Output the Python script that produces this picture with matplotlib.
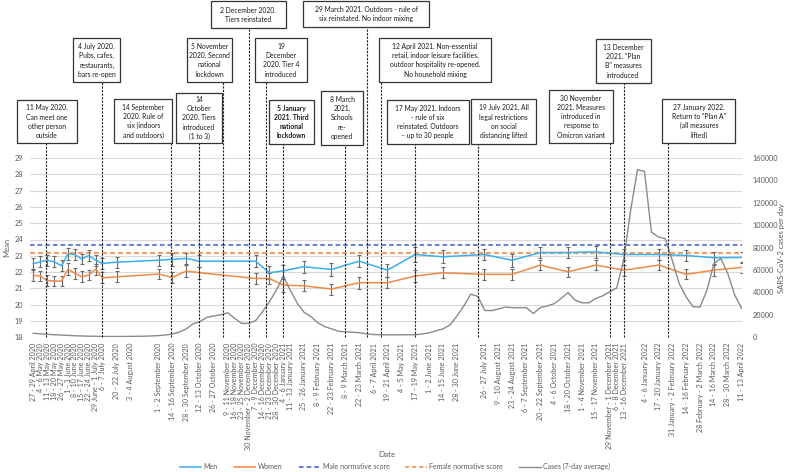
import matplotlib
matplotlib.use("Agg")
import matplotlib.pyplot as plt
import matplotlib.dates as mdates
from matplotlib.patches import Rectangle
from matplotlib.lines import Line2D
import pandas as pd

plt.rcParams['font.family'] = ['Lato', 'DejaVu Sans']

# ---------------- data ----------------
tick_dates = ["2020-04-28", "2020-05-05", "2020-05-12", "2020-05-19", "2020-05-26 12:00",
              "2020-06-02", "2020-06-09", "2020-06-16", "2020-06-23", "2020-06-30",
              "2020-07-06 12:00", "2020-07-21", "2020-08-03 12:00", "2020-09-01 12:00",
              "2020-09-15", "2020-09-29", "2020-10-12 12:00", "2020-10-26 12:00",
              "2020-11-10", "2020-11-17", "2020-11-24", "2020-12-01", "2020-12-08",
              "2020-12-15", "2020-12-22", "2020-12-29", "2021-01-05", "2021-01-12",
              "2021-01-25 12:00", "2021-02-08 12:00", "2021-02-22 12:00", "2021-03-08 12:00",
              "2021-03-22 12:00", "2021-04-06 12:00", "2021-04-20", "2021-05-04 12:00",
              "2021-05-18", "2021-06-01 12:00", "2021-06-14 12:00", "2021-06-29",
              "2021-07-26 12:00", "2021-08-09 12:00", "2021-08-23 12:00", "2021-09-06 12:00",
              "2021-09-21", "2021-10-05", "2021-10-19", "2021-11-02 12:00", "2021-11-16",
              "2021-11-30", "2021-12-07", "2021-12-14 12:00", "2022-01-05", "2022-01-18 12:00",
              "2022-02-01", "2022-02-15", "2022-03-01", "2022-03-15", "2022-03-29", "2022-04-12"]
tick_labels = ["27 - 29 April 2020", "4 - 6 May 2020", "11 - 13 May 2020", "18 - 20 May 2020",
               "26 - 27 May 2020", "1 - 3 June 2020", "8 - 10 June 2020", "15 - 17 June 2020",
               "22 - 24 June 2020", "29 June - 1 July 2020", "6 - 7 July 2020", "20 - 22 July 2020",
               "3 - 4 August 2020", "1 - 2 September 2020", "14 - 16 September 2020",
               "28 - 30 September 2020", "12 - 13 October 2020", "26 - 27 October 2020",
               "9 - 11 November 2020", "16 - 18 November 2020", "23 - 25 November 2020",
               "30 November - 2 December 2020", "7 - 9 December 2020", "14 - 16 December 2020",
               "21 - 23 December 2020", "28 - 30 December 2020", "4 - 6 January 2021",
               "11 - 13 January 2021", "25 - 26 January 2021", "8 - 9 February 2021",
               "22 - 23 February 2021", "8 - 9 March 2021", "22 - 23 March 2021",
               "6 - 7 April 2021", "19 - 21 April 2021", "4 - 5 May 2021", "17 - 19 May 2021",
               "1 - 2 June 2021", "14 - 15 June 2021", "28 - 30 June 2021", "26 - 27 July 2021",
               "9 - 10 August 2021", "23 - 24 August 2021", "6 - 7 September 2021",
               "20 - 22 September 2021", "4 - 6 October 2021", "18 - 20 October 2021",
               "1 - 4 November 2021", "15 - 17 November 2021", "29 November - 1 December 2021",
               "6 - 8 December 2021", "13 - 16 December 2021", "4 - 6 January 2022",
               "17 - 20 January 2022", "31 January - 2 February 2022", "14 - 16 February 2022",
               "28 February - 2 March 2022", "14 - 16 March 2022", "28 - 30 March 2022",
               "11 - 13 April 2022"]

score_dates = ["2020-04-28", "2020-05-05", "2020-05-12", "2020-05-19", "2020-05-26 12:00",
               "2020-06-02", "2020-06-09", "2020-06-16", "2020-06-23", "2020-06-30",
               "2020-07-06 12:00", "2020-07-21", "2020-09-01 12:00", "2020-09-15",
               "2020-09-29", "2020-10-12 12:00", "2020-12-08", "2020-12-22", "2021-01-05",
               "2021-01-25 12:00", "2021-02-22 12:00", "2021-03-22 12:00", "2021-04-20",
               "2021-05-18", "2021-06-14 12:00", "2021-07-26 12:00", "2021-08-23 12:00",
               "2021-09-21", "2021-10-19", "2021-11-16", "2021-12-14 12:00",
               "2022-01-18 12:00", "2022-02-15", "2022-03-15", "2022-04-12"]
men = [22.51, 22.63, 22.73, 22.63, 22.39, 23.12, 23.08, 22.80, 23.02, 22.73, 22.53, 22.61,
       22.73, 22.78, 22.84, 22.67, 22.67, 21.96, 22.08, 22.33, 22.16, 22.67, 22.12, 23.08,
       22.94, 23.08, 22.73, 23.20, 23.20, 23.24, 23.08, 23.08, 23.02, 22.88, 22.90]
men_err = [0.34, 0.33, 0.34, 0.33, 0.34, 0.36, 0.33, 0.33, 0.34, 0.34, 0.35, 0.33,
           0.34, 0.40, 0.36, 0.38, 0.38, 0.39, 0.36, 0.36, 0.39, 0.36, 0.39, 0.46,
           0.41, 0.36, 0.40, 0.33, 0.36, 0.35, 0.34, 0.35, 0.33, 0.36, 0.36]
women = [21.80, 21.76, 21.49, 21.45, 21.45, 22.18, 21.92, 21.71, 21.82, 22.18, 21.65, 21.71,
         21.88, 21.67, 22.06, 21.96, 21.61, 21.61, 21.20, 21.16, 20.96, 21.35, 21.35, 21.76,
         21.96, 21.86, 21.86, 22.43, 22.02, 22.43, 22.12, 22.43, 21.86, 22.12, 22.29]
women_err = [0.33, 0.32, 0.32, 0.32, 0.32, 0.35, 0.33, 0.33, 0.33, 0.33, 0.34, 0.33,
             0.33, 0.36, 0.35, 0.36, 0.33, 0.36, 0.40, 0.33, 0.34, 0.36, 0.34, 0.36,
             0.34, 0.34, 0.36, 0.33, 0.30, 0.33, 0.34, 0.33, 0.31, 0.34, 0.34]
male_norm = 23.65
female_norm = 23.20

cases_start = "2020-04-28"
cases = [3600, 3100, 2700, 2300, 2000, 1700, 1400, 1200, 1000, 900,
         800, 700, 700, 750, 800, 900, 1000, 1200, 1500, 2000,
         2900, 4600, 7400, 12000, 14000, 17800, 19000, 20100, 21900, 16900,
         12400, 12400, 14800, 22800, 31700, 42100, 54500, 42100, 30500, 22200,
         18400, 12800, 9500, 7400, 5300, 4900, 4500, 4100, 3000, 2500,
         2300, 2200, 2200, 2200, 2300, 2300, 3000, 4000, 5800, 7500,
         11000, 19000, 28000, 38500, 36500, 24000, 23800, 25300, 27000, 26400,
         26400, 26400, 21200, 26500, 28000, 30000, 34700, 40000, 33200, 30800,
         30800, 34700, 37000, 40600, 44000, 68700, 113000, 149600, 148100, 93900,
         89500, 88000, 68700, 48000, 36100, 27300, 26900, 42100, 65800, 70200,
         56900, 37600, 25800]

event_dates = ["2020-05-11", "2020-07-06", "2020-09-14", "2020-10-12", "2020-11-05",
               "2020-12-01", "2020-12-19", "2021-01-05", "2021-03-08", "2021-03-30",
               "2021-04-13", "2021-05-18", "2021-07-20", "2021-11-30", "2021-12-14",
               "2022-01-28"]
event_texts = [
    "11 May 2020.\nCan meet one\nother person\noutside",
    "4 July 2020.\nPubs, cafes,\nrestaurants,\nbars re-open",
    "14 September\n2020. Rule of\nsix (indoors\nand outdoors)",
    "14\nOctober\n2020. Tiers\nintroduced\n(1 to 3)",
    "5 November\n2020. Second\nnational\nlockdown",
    "2 December 2020.\nTiers reinstated",
    "19\nDecember\n2020. Tier 4\nintroduced",
    "5 January\n2021. Third\nnational\nlockdown",
    "8 March\n2021.\nSchools\nre-\nopened",
    "29 March 2021. Outdoors - rule of\nsix reinstated. No indoor mixing",
    "12 April 2021. Non-essential\nretail, indoor leisure facilities,\noutdoor hospitality re-opened.\nNo household mixing",
    "17 May 2021. Indoors\n- rule of six\nreinstated. Outdoors\n\u2013 up to 30 people",
    "19 July 2021. All\nlegal restrictions\non social\ndistancing lifted",
    "30 November\n2021. Measures\nintroduced in\nresponse to\nOmicron variant",
    "13 December\n2021. \"Plan\nB\" measures\nintroduced",
    "27 January 2022.\nReturn to \"Plan A\"\n(all measures\nlifted)",
]
event_bold = [False, False, False, False, False, False, False, True,
              False, False, False, False, False, False, False, False]

# ---------------- layout (pixels, top-left origin) ----------------
W, H = 790, 472
box_px = [(16.7, 100, 76.7, 143.3), (73.3, 38.3, 120, 82.3), (114.3, 99.3, 172.3, 143.3),
          (175.7, 92.7, 222.3, 143.3), (186.7, 38.3, 232.3, 82.3), (210.7, 1, 286, 28.3),
          (254.7, 38.3, 307.3, 82.3), (269.3, 100, 314, 144), (321, 90.7, 363.3, 145),
          (303.3, 1, 429.3, 27.3), (379, 38.3, 491, 82.3), (386.7, 100, 468.7, 144),
          (471.3, 99.3, 535.7, 144), (549.3, 90, 612.7, 143.3), (595.7, 39.3, 650.7, 83.3),
          (662.3, 99.3, 735.3, 143.3)]
ax_left, ax_right, ax_top, ax_bottom = 30, 742, 158, 337.3

grey_txt = '#595959'
c_men = '#3AAEEF'
c_women = '#F08A45'
c_mnorm = '#3C5BD8'
c_fnorm = '#F0A06E'
c_cases = '#8A8A8A'


def to_dt(lst):
    return pd.to_datetime(lst, format='mixed')


fig = plt.figure(figsize=(W / 100, H / 100), dpi=100)
ax = fig.add_axes([ax_left / W, 1 - ax_bottom / H, (ax_right - ax_left) / W, (ax_bottom - ax_top) / H])

t0 = mdates.date2num(pd.Timestamp("2020-04-28"))
ax.set_xlim(t0 - 3.3, t0 + 714.3)
ax.set_ylim(18, 29)
ax.set_yticks(range(18, 30))
ax.yaxis.grid(True, color='#d9d9d9', lw=0.8)
ax.set_axisbelow(True)
for s in ax.spines.values():
    s.set_visible(False)

sd = mdates.date2num(to_dt(score_dates))
ax.axhline(male_norm, color=c_mnorm, lw=1.1, ls=(0, (3, 2)), zorder=2)
ax.axhline(female_norm, color=c_fnorm, lw=1.6, ls=(0, (2.2, 1.4)), zorder=2)
ax.errorbar(sd, men, yerr=men_err, color=c_men, lw=1.1, ecolor='#6a6a6a', elinewidth=0.8,
            capsize=1.6, capthick=0.8, zorder=3)
ax.errorbar(sd, women, yerr=women_err, color=c_women, lw=1.1, ecolor='#6a6a6a', elinewidth=0.8,
            capsize=1.6, capthick=0.8, zorder=3)

ax.set_xticks(mdates.date2num(to_dt(tick_dates)))
ax.set_xticklabels(tick_labels, rotation=90, fontsize=5.1, color=grey_txt, va='top')
ax.tick_params(axis='x', length=0, pad=4)
ax.tick_params(axis='y', length=0, pad=4.8, labelsize=5.3, labelcolor=grey_txt)
ax.set_ylabel('Mean', fontsize=5.5, color=grey_txt)
ax.yaxis.set_label_coords(-0.028, 0.5)

ax2 = ax.twinx()
ax2.set_ylim(0, 160000)
ax2.set_yticks(range(0, 160001, 20000))
ax2.tick_params(axis='y', length=0, pad=7.5, labelsize=5.3, labelcolor=grey_txt)
for s in ax2.spines.values():
    s.set_visible(False)
cd = mdates.date2num(pd.date_range(cases_start, periods=len(cases), freq="7D"))
ax2.plot(cd, cases, color=c_cases, lw=1.0, zorder=2)
ax2.set_ylabel('SARS-CoV-2 cases per day', fontsize=5.5, color=grey_txt, rotation=90)
ax2.yaxis.label.set_va('center')
ax2.yaxis.set_label_coords((782 - ax_left) / (ax_right - ax_left), 0.5)

# event lines and boxes
ax_h = ax_bottom - ax_top
for d, txt, b, bold in zip(event_dates, event_texts, box_px, event_bold):
    x0, y0, x1, y1 = b
    xd = mdates.date2num(pd.Timestamp(d))
    yfrac = (ax_bottom - y1) / ax_h
    ax2.plot([xd, xd], [0, yfrac], transform=ax2.get_xaxis_transform(), clip_on=False,
             color='#222222', lw=0.8, ls=(0, (2, 1.2)), zorder=5)
    fig.add_artist(Rectangle((x0 / W, 1 - y1 / H), (x1 - x0) / W, (y1 - y0) / H,
                             transform=fig.transFigure, facecolor='white',
                             edgecolor='#333333', lw=0.9, zorder=6))
    fig.text((x0 + x1) / 2 / W, 1 - (y0 + y1) / 2 / H, txt, ha='center', va='center',
             fontsize=4.9, linespacing=1.38, color='#1a1a1a',
             fontweight='bold' if bold else 'normal', zorder=7)

fig.text(387 / W, 1 - 454.3 / H, 'Date', ha='center', va='center', fontsize=5.8, color=grey_txt)

handles = [Line2D([], [], color=c_men, lw=1.1),
           Line2D([], [], color=c_women, lw=1.1),
           Line2D([], [], color=c_mnorm, lw=1.1, ls=(0, (3, 2))),
           Line2D([], [], color=c_fnorm, lw=1.4, ls=(0, (2.2, 1.4))),
           Line2D([], [], color=c_cases, lw=1.0)]
labels = ['Men', 'Women', 'Male normative score', 'Female normative score', 'Cases (7-day average)']
leg = fig.legend(handles, labels, loc='center', bbox_to_anchor=(0.5, 1 - 466.7 / H), ncol=5,
                 frameon=False, fontsize=5.0, handlelength=3.1, handletextpad=0.35,
                 columnspacing=2.3)
for t in leg.get_texts():
    t.set_color(grey_txt)

fig.savefig('out.png', dpi=100)
